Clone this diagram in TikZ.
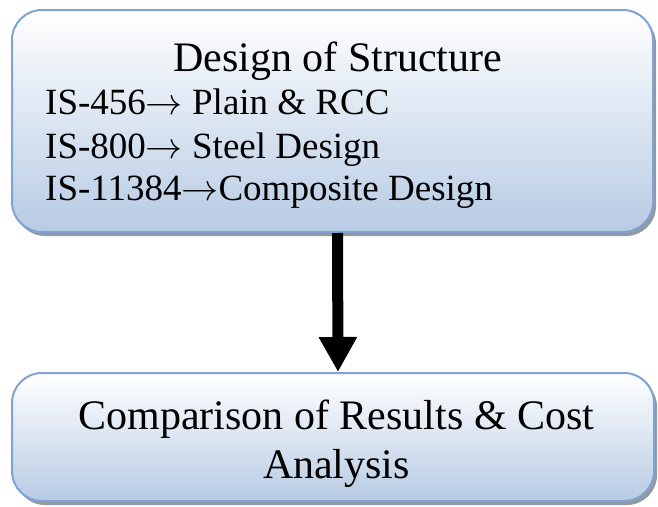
\documentclass[tikz,border=0pt]{standalone}
\usepackage{graphicx}
\usepackage{fontspec}
\setmainfont{Liberation Serif}
\usetikzlibrary{shadows,arrows.meta}
\definecolor{boxedge}{RGB}{128,163,210}
\definecolor{boxbot}{RGB}{183,203,228}
\definecolor{shadowgray}{RGB}{145,153,163}
\newcommand{\isarrow}{\scalebox{3.7}{\fontsize{10}{12}\selectfont\ensuremath{\rightarrow}}}
\tikzset{
 flowbox/.style={draw=boxedge, line width=2pt, rounded corners=30pt, top color=white, bottom color=boxbot,
   drop shadow={shadow xshift=3pt, shadow yshift=-4pt, fill=shadowgray, opacity=1}, inner sep=0pt},
 titletext/.style={font=\fontsize{42}{49}\selectfont, anchor=base, inner sep=0pt},
 listtext/.style={font=\fontsize{37}{43}\selectfont, anchor=base west, inner sep=0pt},
 bigarrow/.style={line width=11pt, -{Triangle[width=36pt,length=35pt]}}
}
\begin{document}
\begin{tikzpicture}[x=1pt,y=-1pt]
\path[use as bounding box, fill=white] (0,0) rectangle (658,506);
\node[flowbox, minimum width=641pt, minimum height=222pt] (top) at (332.5,121) {};
\node[flowbox, minimum width=642pt, minimum height=128pt] (bottom) at (333,437) {};
\node[titletext] (t1) at (337.5,71) {Design of Structure};
\node[listtext] (l1) at (45,114) {IS-456\isarrow{} Plain \& RCC};
\node[listtext] (l2) at (45,158) {IS-800\isarrow{} Steel Design};
\node[listtext] (l3) at (45,200) {IS-11384\isarrow{}Composite Design};
\node[titletext] (b1) at (336.5,429) {Comparison of Results \& Cost};
\node[titletext] (b2) at (336.5,478) {Analysis};
\draw[bigarrow] ([xshift=5pt]top.south) -- ([xshift=5pt]bottom.north);
\end{tikzpicture}
\end{document}
